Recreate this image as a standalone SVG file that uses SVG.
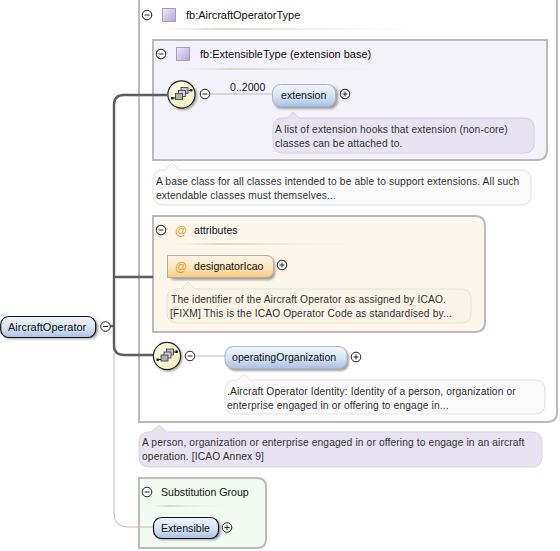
<svg xmlns="http://www.w3.org/2000/svg" width="560" height="551" viewBox="0 0 560 551">
<style>
text{font-family:"Liberation Sans",Arial,sans-serif;font-size:10.6px;fill:#222}
.t{font-size:10.6px;fill:#111}
.h{font-size:11px;fill:#111}
.d{font-size:10.25px;fill:#333;letter-spacing:.12px}
.box{stroke:#bbb;stroke-width:2}
.tog{fill:#fff;stroke:#222;stroke-width:1}
.sgn{stroke:#222;stroke-width:1;fill:none}
.el{stroke:#a9b6c6;stroke-width:1}
.eln{stroke:#111;stroke-width:1.2}
.thick{fill:none;stroke:#5e5e5e;stroke-width:2.4}
.thin{fill:none;stroke:#bcbcbc;stroke-width:1}
.sq{fill:url(#purp);stroke:#a99cc6;stroke-width:1}
.at{fill:#e79a2c;font-size:12px}
.shadow{fill:#666;opacity:.6;filter:url(#soft)}
</style>
<defs>
<filter id="soft" x="-20%" y="-30%" width="140%" height="160%"><feGaussianBlur stdDeviation="1"/></filter>
<linearGradient id="blue" x1="0" y1="0" x2="0" y2="1"><stop offset="0" stop-color="#f2f6fb"/><stop offset=".55" stop-color="#d5e2f3"/><stop offset="1" stop-color="#a9c1e6"/></linearGradient>
<linearGradient id="orange" x1="0" y1="0" x2="0" y2="1"><stop offset="0" stop-color="#fdf6e8"/><stop offset=".55" stop-color="#fde6bd"/><stop offset="1" stop-color="#fbcb80"/></linearGradient>
<linearGradient id="purp" x1="0" y1="0" x2="1" y2="1"><stop offset="0" stop-color="#f0ecf8"/><stop offset="1" stop-color="#b3a4d6"/></linearGradient>
<linearGradient id="rule" x1="0" y1="0" x2="1" y2="0"><stop offset="0" stop-color="#fff" stop-opacity="0"/><stop offset=".25" stop-color="#d9d9d0"/><stop offset="1" stop-color="#fff" stop-opacity="0"/></linearGradient>
<radialGradient id="yel" cx=".4" cy=".35" r=".8"><stop offset="0" stop-color="#fffff0"/><stop offset="1" stop-color="#f8eeb4"/></radialGradient>
<g id="minus"><circle r="4.8" class="tog"/><path d="M-2.500 0H2.500" class="sgn"/></g>
<g id="plus"><circle r="4.8" class="tog"/><path d="M-2.500 0H2.500M0-2.500V2.500" class="sgn"/></g>
<g id="seq">
<circle cx="1.500" cy="1.500" r="14" class="shadow"/>
<circle r="13.600" fill="url(#yel)" stroke="#222" stroke-width="1.200"/>
<path d="M-10 3.500H-6M7-4H10" stroke="#111" stroke-width="1"/>
<rect x="-10.500" y="2.500" width="2.400" height="2.400" fill="#111"/><rect x="8.500" y="-5.500" width="2.400" height="2.400" fill="#111"/>
<rect x="-.5" y="-7" width="7" height="6" fill="#c8c8c8" stroke="#333" stroke-width=".8"/>
<rect x="-3" y="-4" width="7" height="6" fill="#d5d5d5" stroke="#333" stroke-width=".8"/>
<rect x="-6" y="-1" width="7" height="6" fill="#b0b0b0" stroke="#333" stroke-width=".8"/>
</g>
</defs>

<g id="node-type">
<path d="M139-4H557V412Q557 422 547 422H139Z" fill="#fff" class="box"/>
<use href="#minus" x="147" y="15"/>
<rect x="162.500" y="8.500" width="13" height="13" class="sq"/>
<text x="186" y="19" class="h">fb:AircraftOperatorType</text>
<rect x="143" y="28" width="310" height="2" fill="url(#rule)"/>
</g>

<g id="node-base">
<path d="M153 40H547V150Q547 160 537 160H153Z" fill="#f3f1f9" class="box"/>
<use href="#minus" x="161" y="54"/>
<rect x="176.500" y="47.500" width="13" height="13" class="sq"/>
<text x="200" y="58" class="h">fb:ExtensibleType (extension base)</text>
<rect x="157" y="68" width="295" height="2" fill="url(#rule)"/>
</g>

<g id="node-attributes">
<path d="M153 216H475Q485 216 485 226V322Q485 332 475 332H153Z" fill="#fdf6ea" class="box"/>
<use href="#minus" x="161" y="230"/>
<text x="175" y="235" class="at">@</text>
<text x="194" y="234" class="t">attributes</text>
<rect x="157" y="243" width="245" height="2" fill="url(#rule)"/>
</g>

<g id="node-subst">
<path d="M139 478H257Q266 478 266 487V539Q266 548 257 548H139Z" fill="#f2fbf2" class="box"/>
<use href="#minus" x="147" y="492"/>
<text x="161" y="496" class="t">Substitution Group</text>
<rect x="143" y="505" width="100" height="2" fill="url(#rule)"/>
</g>

<g id="connectors">
<path class="thin" d="M114 326V513Q114 527 128 527H153"/>
<path class="thin" d="M210 94H272"/>
<path class="thin" d="M196 356H225"/>
<path class="thick" d="M167 95H124Q114 95 114 105V345Q114 355 124 355H154"/>
<path class="thick" d="M114 277H153"/>
<path class="thick" d="M110 326H114"/>
</g>

<g id="node-seq1">
<use href="#seq" x="181.500" y="94.500"/>
<use href="#minus" x="205" y="94"/>
<text x="230" y="91">0..2000</text>
</g>

<g id="node-extension">
<rect x="274" y="86" width="64" height="23" rx="8" class="shadow"/>
<rect x="272.500" y="84.500" width="63" height="22" rx="8" fill="url(#blue)" class="el"/>
<text x="281" y="99" class="t">extension</text>
<use href="#plus" x="345" y="94"/>
<path d="M273 128Q273 118 283 118H288L293 112L299 118H524Q534 118 534 128V143Q534 153 524 153H283Q273 153 273 143Z" fill="#e7e3f0" stroke="#d2cfdc"/>
<text x="275" y="133" class="d">A list of extension hooks that extension (non-core)</text>
<text x="275" y="147" class="d">classes can be attached to.</text>
</g>

<g id="note-type">
<path d="M153 180Q153 170 163 170H165L172 163L179 170H521Q531 170 531 180V195Q531 205 521 205H163Q153 205 153 195Z" fill="#fbfbfb" stroke="#e2e2e2"/>
<text x="156" y="185" class="d">A base class for all classes intended to be able to support extensions. All such</text>
<text x="156" y="199" class="d">extendable classes must themselves...</text>
</g>

<g id="node-designator">
<rect x="169" y="257" width="106" height="23" rx="6" class="shadow"/>
<path d="M167.500 255.500H266Q273.500 255.500 273.500 263V270Q273.500 277.500 266 277.500H167.500Z" fill="url(#orange)" stroke="#b9ad98"/>
<text x="175" y="271" class="at">@</text>
<text x="194" y="270" class="t">designatorIcao</text>
<use href="#plus" x="282" y="265"/>
<path d="M167 299Q167 289 177 289H181L188 282L195 289H461Q471 289 471 299V313Q471 323 461 323H177Q167 323 167 313Z" fill="#faf3e8" stroke="#e8e2d8"/>
<text x="171" y="303" class="d">The identifier of the Aircraft Operator as assigned by ICAO.</text>
<text x="170" y="317" class="d">[FIXM] This is the ICAO Operator Code as standardised by...</text>
</g>

<g id="node-seq2">
<use href="#seq" x="167" y="356"/>
<use href="#minus" x="190" y="356"/>
</g>

<g id="node-operating">
<rect x="227" y="349" width="122" height="22" rx="8" class="shadow"/>
<rect x="225" y="346.500" width="122" height="22" rx="8" fill="url(#blue)" class="el"/>
<text x="232" y="361" class="t">operatingOrganization</text>
<use href="#plus" x="356" y="357"/>
<path d="M225 390Q225 380 235 380H238L244 374L250 380H535Q545 380 545 390V404Q545 414 535 414H235Q225 414 225 404Z" fill="#fafafa" stroke="#e4e4e4"/>
<text x="227" y="395" class="d">.Aircraft Operator Identity: Identity of a person, organization or</text>
<text x="227" y="409" class="d">enterprise engaged in or offering to engage in...</text>
</g>

<g id="note-main">
<path d="M139 442Q139 432 149 432H151L159 425L167 432H532Q542 432 542 442V457Q542 467 532 467H149Q139 467 139 457Z" fill="#e7e3f0" stroke="#d7d3e0"/>
<text x="142" y="446" class="d">A person, organization or enterprise engaged in or offering to engage in an aircraft</text>
<text x="142" y="460" class="d">operation. [ICAO Annex 9]</text>
</g>

<g id="node-extensible">
<rect x="155" y="519" width="66" height="21" rx="8" class="shadow"/>
<rect x="153.500" y="517.500" width="65" height="21" rx="8" fill="url(#blue)" class="eln"/>
<text x="161" y="532" class="t">Extensible</text>
<use href="#plus" x="227" y="527.500"/>
</g>

<g id="node-root">
<rect x="2" y="318" width="96" height="21" rx="8" class="shadow"/>
<rect x=".7" y="316.500" width="95" height="21" rx="8" fill="url(#blue)" class="eln"/>
<text x="8" y="331" class="h">AircraftOperator</text>
<use href="#minus" x="105.500" y="326.500"/>
</g>
</svg>
